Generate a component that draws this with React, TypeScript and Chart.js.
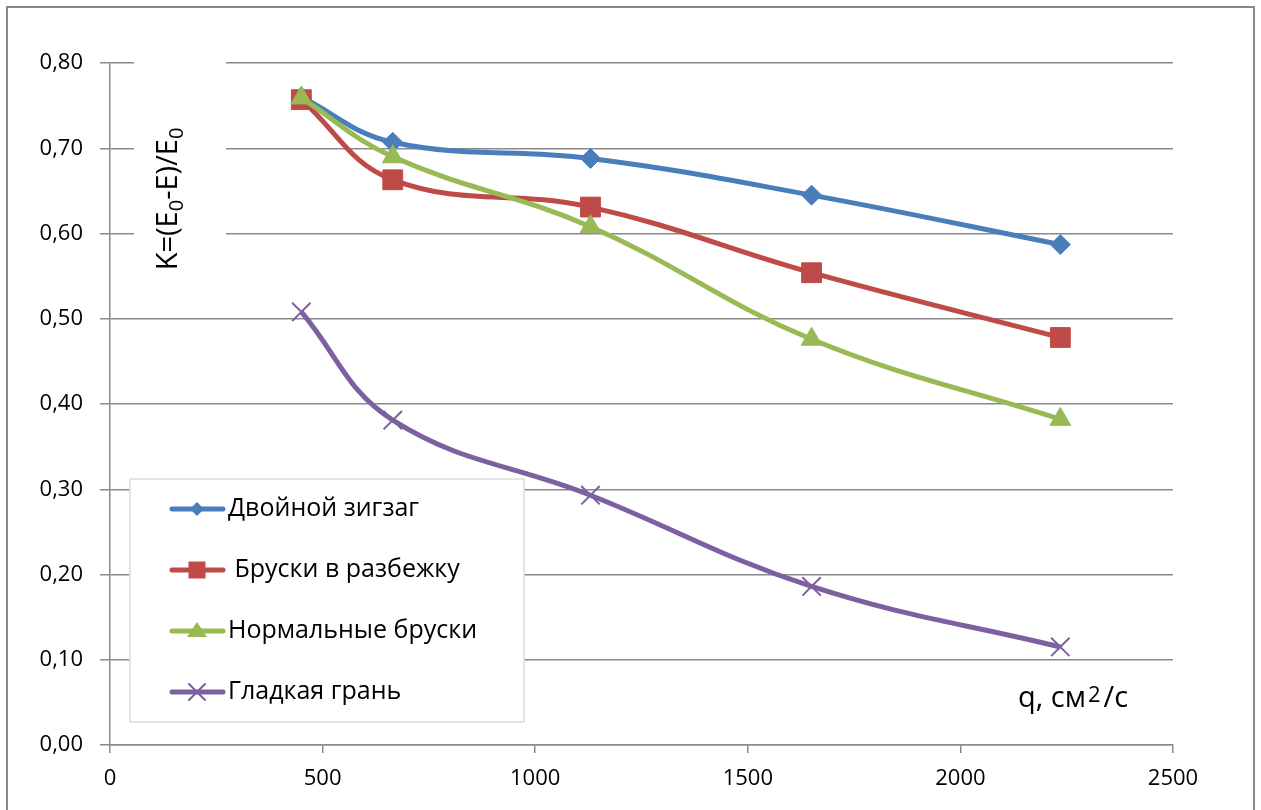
import React, { useEffect, useRef } from 'react';
import { Chart, registerables } from 'chart.js';

Chart.register(...registerables);

// ---- data ----
const qValues = [450, 665, 1130, 1650, 2235];
const doubleZigzag = [0.760, 0.707, 0.688, 0.645, 0.587];
const staggeredBars = [0.757, 0.663, 0.631, 0.554, 0.478];
const normalBars = [0.759, 0.690, 0.608, 0.476, 0.382];
const smoothFace = [0.508, 0.381, 0.293, 0.186, 0.115];
const seriesNames = ['Двойной зигзаг', ' Бруски в разбежку', 'Нормальные бруски', 'Гладкая грань'];
const seriesColors = ['#4A7EBB', '#BE4B48', '#98B954', '#7D60A0'];
const seriesStyles = ['rectRot', 'rect', 'triangle', 'crossRot'];
const seriesRadii = [10, 14, 12, 13];
const yMin = 0, yMax = 0.8, yStep = 0.1;
const xMin = 0, xMax = 2500, xStep = 500;
const yTitleParts = [
  { t: 'K=(E' }, { t: '0', sub: true }, { t: '-E)/E' }, { t: '0', sub: true },
];
const xTitleParts = [{ t: 'q, см' }, { t: '2', sup: true, gap: 2 }, { t: '/с', gap: 3 }];

const FONT = "'Open Sans', sans-serif";
const GRID = '#898989';

function drawParts(ctx: CanvasRenderingContext2D, parts: any[], x: number, y: number, size: number, subSize: number, subOff: number, supOff: number, center: boolean) {
  const widths = parts.map((p) => {
    ctx.font = `${p.sub || p.sup ? subSize : size}px ${FONT}`;
    return ctx.measureText(p.t).width + (p.gap || 0);
  });
  const total = widths.reduce((a, b) => a + b, 0);
  let cx = center ? x - total / 2 : x;
  ctx.textBaseline = 'alphabetic';
  ctx.textAlign = 'left';
  parts.forEach((p, i) => {
    ctx.font = `${p.sub || p.sup ? subSize : size}px ${FONT}`;
    const dy = p.sub ? subOff : p.sup ? supOff : 0;
    ctx.fillText(p.t, cx + (p.gap || 0), y + dy);
    cx += widths[i];
  });
}

function drawMarker(ctx: CanvasRenderingContext2D, style: string, x: number, y: number, r: number, color: string) {
  ctx.save();
  ctx.fillStyle = color;
  ctx.strokeStyle = color;
  ctx.beginPath();
  if (style === 'rectRot') {
    ctx.moveTo(x - r, y); ctx.lineTo(x, y - r); ctx.lineTo(x + r, y); ctx.lineTo(x, y + r); ctx.closePath(); ctx.fill();
  } else if (style === 'rect') {
    ctx.rect(x - r, y - r, 2 * r, 2 * r); ctx.fill();
  } else if (style === 'triangle') {
    ctx.moveTo(x - r, y + r * 0.6); ctx.lineTo(x, y - r * 0.9); ctx.lineTo(x + r, y + r * 0.6); ctx.closePath(); ctx.fill();
  } else {
    ctx.lineWidth = 2;
    ctx.moveTo(x - r, y - r); ctx.lineTo(x + r, y + r);
    ctx.moveTo(x - r, y + r); ctx.lineTo(x + r, y - r); ctx.stroke();
  }
  ctx.restore();
}

const decorPlugin = {
  id: 'decor',
  beforeDraw(chart: any) {
    const ctx = chart.ctx as CanvasRenderingContext2D;
    ctx.save();
    ctx.fillStyle = '#fff';
    ctx.fillRect(0, 0, chart.width, chart.height);
    ctx.strokeStyle = GRID;
    ctx.lineWidth = 2;
    ctx.strokeRect(7, 7, 1247, 850);
    ctx.restore();
  },
  afterDraw(chart: any) {
    const ctx = chart.ctx as CanvasRenderingContext2D;
    ctx.save();
    // y axis title with white background
    ctx.fillStyle = '#fff';
    ctx.fillRect(134, 45, 92, 245);
    ctx.fillStyle = '#000';
    ctx.save();
    ctx.translate(177, 199);
    ctx.rotate(-Math.PI / 2);
    drawParts(ctx, yTitleParts, 0, 0, 29, 20, 6, 0, true);
    ctx.restore();
    // x axis title
    drawParts(ctx, xTitleParts, 1018, 707, 29, 22, 0, -5, false);
    // legend
    ctx.fillStyle = '#fff';
    ctx.fillRect(130, 479, 394, 243);
    ctx.strokeStyle = '#dcdcdc';
    ctx.lineWidth = 1.5;
    ctx.strokeRect(130, 479, 394, 243);
    const rows = [509, 570, 631, 692];
    const legR = [7, 8.5, 10, 8];
    seriesNames.forEach((name, i) => {
      const y = rows[i];
      ctx.strokeStyle = seriesColors[i];
      ctx.lineWidth = 5;
      ctx.lineCap = 'round';
      ctx.beginPath();
      ctx.moveTo(172, y);
      ctx.lineTo(223, y);
      ctx.stroke();
      drawMarker(ctx, seriesStyles[i], 197, y, legR[i], seriesColors[i]);
      ctx.fillStyle = '#000';
      ctx.font = `25px ${FONT}`;
      ctx.textAlign = 'left';
      ctx.textBaseline = 'middle';
      ctx.fillText(name, 228, y);
    });
    ctx.restore();
  },
};

export default function App() {
  const ref = useRef<HTMLCanvasElement>(null);
  useEffect(() => {
    if (!ref.current) return;
    const series = [doubleZigzag, staggeredBars, normalBars, smoothFace];
    const chart = new Chart(ref.current, {
      type: 'line',
      data: {
        datasets: series.map((vals, i) => ({
          label: seriesNames[i],
          data: qValues.map((q, j) => ({ x: q, y: vals[j] })),
          borderColor: seriesColors[i],
          backgroundColor: seriesColors[i],
          pointBackgroundColor: seriesColors[i],
          pointBorderColor: seriesColors[i],
          pointStyle: seriesStyles[i] as any,
          pointRadius: seriesRadii[i],
          pointBorderWidth: i === 3 ? 2 : 1,
          borderWidth: 5,
          tension: 0.4,
          fill: false,
          order: 3 - i,
        })),
      },
      options: {
        animation: false,
        responsive: false,
        layout: { padding: { left: 0, right: 88, top: 63, bottom: 0 } },
        plugins: { legend: { display: false }, tooltip: { enabled: false } },
        scales: {
          x: {
            type: 'linear',
            min: xMin,
            max: xMax,
            afterFit: (s: any) => { s.height = 65; },
            ticks: {
              stepSize: xStep, color: '#000', font: { family: FONT, size: 22 }, padding: 13, maxRotation: 0,
              callback: (v: any) => String(v),
            },
            grid: { drawOnChartArea: false, drawTicks: true, tickLength: 8, color: GRID, lineWidth: 1.5 },
            border: { color: GRID, width: 1.5 },
          },
          y: {
            type: 'linear',
            min: yMin,
            max: yMax,
            afterFit: (s: any) => { s.width = 110; },
            ticks: {
              stepSize: yStep,
              color: '#000',
              font: { family: FONT, size: 22 },
              padding: 17,
              callback: (v: any) => Number(v).toFixed(2).replace('.', ','),
            },
            grid: { drawTicks: true, tickLength: 10, color: GRID, lineWidth: 1.5 },
            border: { color: GRID, width: 1.5 },
          },
        },
      },
      plugins: [decorPlugin],
    });
    return () => chart.destroy();
  }, []);
  return (
    <div style={{ position: 'fixed', left: 0, top: 0, width: 1261, height: 810, background: '#fff' }}>
      <canvas ref={ref} width={1261} height={810} />
    </div>
  );
}
